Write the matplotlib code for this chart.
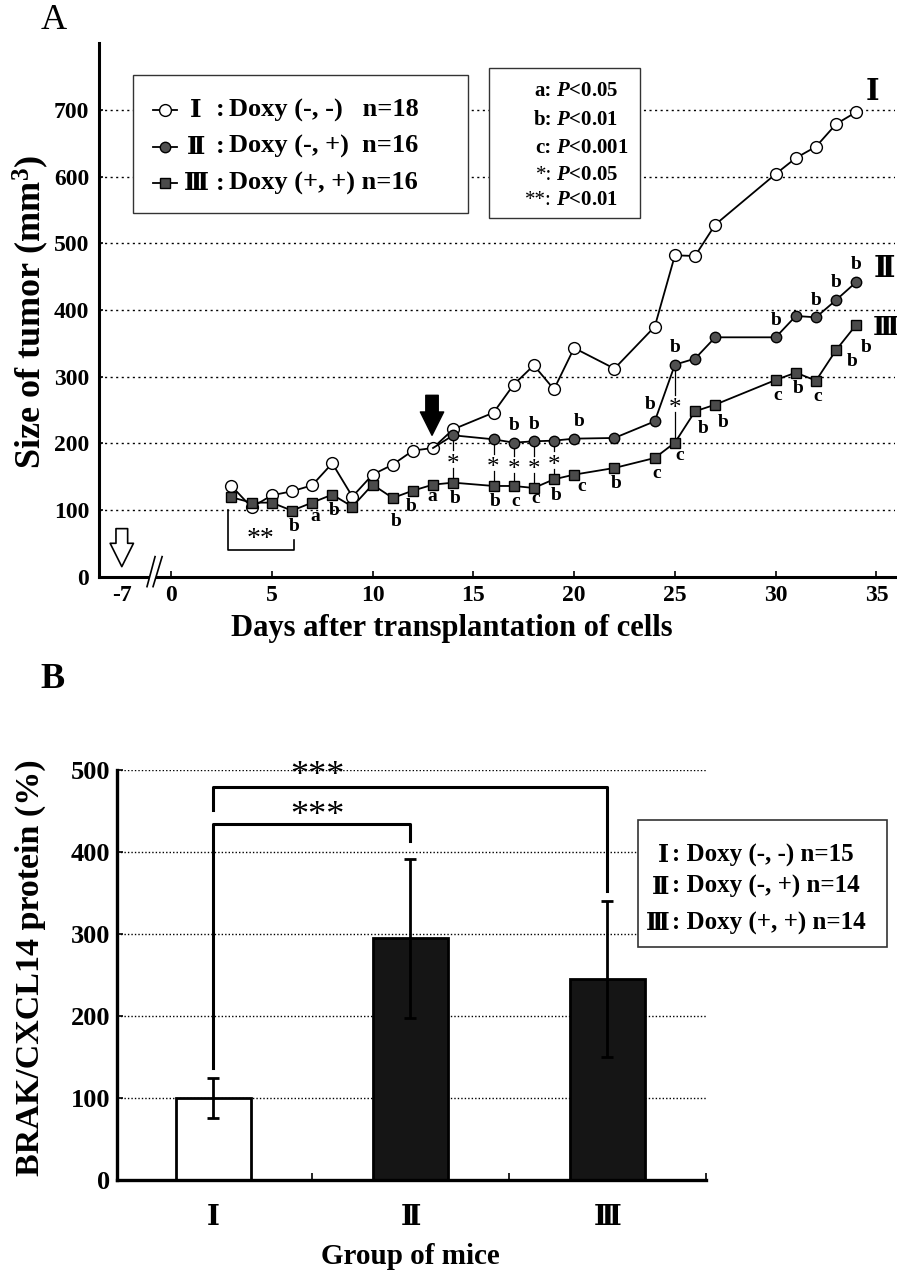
import matplotlib
matplotlib.use('Agg')
import matplotlib.pyplot as plt
from matplotlib.patches import Rectangle, Polygon

plt.rcParams['font.family'] = ['Liberation Serif', 'Noto Sans CJK JP']
plt.rcParams['font.weight'] = 'bold'
plt.rcParams['mathtext.fontset'] = 'custom'
plt.rcParams['mathtext.rm'] = 'Liberation Serif:bold'
plt.rcParams['mathtext.it'] = 'Liberation Serif:italic:bold'
plt.rcParams['mathtext.bf'] = 'Liberation Serif:bold'

ROMAN = ['DejaVu Serif', 'Noto Sans CJK JP']

# ---- panel A data (tumor size, mm3)
days_I = [3, 4, 5, 6, 7, 8, 9, 10, 11, 12, 13, 14, 16, 17, 18, 19, 20, 22, 24, 25, 26, 27, 30, 31, 32, 33, 34]
size_I = [136, 104, 122, 128, 137, 170, 120, 153, 168, 189, 193, 221, 246, 288, 317, 281, 343, 312, 375, 482, 481, 528, 604, 628, 645, 679, 697]
days_II = [13, 14, 16, 17, 18, 19, 20, 22, 24, 25, 26, 27, 30, 31, 32, 33, 34]
size_II = [193, 212, 206, 201, 203, 204, 207, 208, 233, 318, 327, 359, 359, 391, 389, 415, 442]
days_III = [3, 4, 5, 6, 7, 8, 9, 10, 11, 12, 13, 14, 16, 17, 18, 19, 20, 22, 24, 25, 26, 27, 30, 31, 32, 33, 34]
size_III = [119, 111, 111, 99, 111, 123, 105, 138, 118, 129, 138, 141, 136, 136, 133, 146, 153, 163, 178, 201, 248, 258, 295, 306, 294, 340, 378]

letters_II = {17: 'b', 18: 'b', 20: 'b', 24: 'b', 25: 'b', 30: 'b', 32: 'b', 33: 'b', 34: 'b'}
letters_III = {6: 'b', 7: 'a', 8: 'b', 11: 'b', 12: 'b', 13: 'a', 14: 'b', 16: 'b', 17: 'c', 18: 'c',
               19: 'b', 20: 'c', 22: 'b', 24: 'c', 25: 'c', 26: 'b', 27: 'b', 30: 'c', 31: 'b', 32: 'c',
               33: 'b', 34: 'b'}
star_days = [14, 16, 17, 18, 19, 25]

group_names = ['Ⅰ', 'Ⅱ', 'Ⅲ']
labels_A = ['Doxy (-, -)   n=18', 'Doxy (-, +)  n=16', 'Doxy (+, +) n=16']
p_keys = ['a:', 'b:', 'c:', '*:', '**:']
p_vals = ['$P$<0.05', '$P$<0.01', '$P$<0.001', '$P$<0.05', '$P$<0.01']

x_ticks = [0, 5, 10, 15, 20, 25, 30, 35]
y_ticks_A = [0, 100, 200, 300, 400, 500, 600, 700]

# ---- panel B data (BRAK/CXCL14 protein, %)
brak_mean = [100, 295, 245]
brak_sd = [24, 97, 95]
labels_B = ['Doxy (-, -) n=15', 'Doxy (-, +) n=14', 'Doxy (+, +) n=14']
y_ticks_B = [0, 100, 200, 300, 400, 500]

fig = plt.figure(figsize=(8.97, 12.78), dpi=100)

# ================= A
ax = fig.add_axes([0.1104, 0.5488, 0.8874, 0.4173])
ax.set_xlim(-3.57, 35.92)
ax.set_ylim(0, 800)
for s in ['top', 'right']:
    ax.spines[s].set_visible(False)
for s in ['left', 'bottom']:
    ax.spines[s].set_linewidth(2.2)
for v in y_ticks_A[1:]:
    ax.axhline(v, color='black', lw=1.0, ls=(0, (1.5, 2.5)), zorder=0)

ax.plot(days_I, size_I, '-o', color='black', lw=1.3, ms=8.5, mfc='white', mec='black', mew=1.0, zorder=3)
ax.plot(days_II, size_II, '-o', color='black', lw=1.3, ms=7.5, mfc='#505050', mec='black', mew=1.0,
        markevery=list(range(1, len(days_II))), zorder=4)
ax.plot(days_III, size_III, '-s', color='black', lw=1.3, ms=7, mfc='#4a4a4a', mec='black', mew=1.0, zorder=5)

# significance letters
off_III = {7: (3, -14), 11: (3, -24), 12: (-2, -16), 13: (-1, -12), 18: (2, -11), 20: (8, -12),
           25: (5, -13), 26: (8, -17), 27: (8, -18), 33: (16, -12), 34: (10, -23)}
for d, t in letters_III.items():
    v = size_III[days_III.index(d)]
    dx, dy = off_III.get(d, (2, -16))
    ax.annotate(t, (d, v), xytext=(dx * 0.72, dy * 0.72), textcoords='offset points',
                ha='center', va='center', fontsize=14, zorder=6)
off_II = {20: (5, 17), 24: (-5, 17)}
for d, t in letters_II.items():
    v = size_II[days_II.index(d)]
    dx, dy = off_II.get(d, (0, 17))
    ax.annotate(t, (d, v), xytext=(dx * 0.72, dy * 0.72), textcoords='offset points',
                ha='center', va='center', fontsize=14, zorder=6)

# stars II vs III
for d in star_days:
    v2 = size_II[days_II.index(d)]
    v3 = size_III[days_III.index(d)]
    mid = (v2 + v3) / 2
    ax.plot([d, d], [v2, mid + 13], color='black', lw=0.9, zorder=2)
    ax.plot([d, d], [mid - 13, v3], color='black', lw=0.9, zorder=2)
    ax.annotate('*', (d, mid), xytext=(0, -4), textcoords='offset points', ha='center', va='center',
                fontsize=18, fontweight='normal')

# ** bracket days 3-6
ax.plot([2.85, 2.85, 6.1, 6.1], [100, 40, 40, 55], color='black', lw=1.2)
ax.text(4.42, 55, '**', ha='center', va='center', fontsize=20, fontweight='normal')

# arrows
ax.annotate('', xy=(12.95, 212), xytext=(12.95, 272),
            arrowprops=dict(arrowstyle='simple,head_length=0.6,head_width=0.6,tail_width=0.32',
                            fc='black', ec='black', mutation_scale=28, shrinkA=0, shrinkB=0))
ax.annotate('', xy=(-2.44, 15), xytext=(-2.44, 72),
            arrowprops=dict(arrowstyle='simple,head_length=0.6,head_width=0.6,tail_width=0.3',
                            fc='white', ec='black', lw=1.2, mutation_scale=28, shrinkA=0, shrinkB=0))

# axis break
ax.add_patch(Polygon([(-1.19, -15), (-0.79, 30), (-0.44, 30), (-0.89, -15)], closed=True,
                     fc='white', ec='none', clip_on=False, zorder=6))
ax.plot([-1.19, -0.79], [-15, 30], color='black', lw=1.2, clip_on=False, zorder=7)
ax.plot([-0.89, -0.44], [-15, 30], color='black', lw=1.2, clip_on=False, zorder=7)

# group labels at curve ends
ax.text(34.8, 727, group_names[0], ha='center', va='center', fontsize=21, family=ROMAN, fontweight='bold')
ax.text(35.4, 462, group_names[1], ha='center', va='center', fontsize=21, family=ROMAN, fontweight='bold')
ax.text(35.45, 374, group_names[2], ha='center', va='center', fontsize=19, family=ROMAN, fontweight='bold')

ax.set_xticks([-2.44] + x_ticks)
ax.set_xticklabels(['-7'] + [str(v) for v in x_ticks])
ax.xaxis.get_major_ticks()[0].tick1line.set_visible(False)
ax.set_yticks(y_ticks_A)
ax.tick_params(axis='x', direction='in', length=4, width=1.2, labelsize=17, pad=6)
ax.tick_params(axis='y', direction='in', length=3, width=1.2, labelsize=17, pad=7)
for lab in ax.get_xticklabels() + ax.get_yticklabels():
    lab.set_fontweight('bold')

fig.text(0.504, 0.5023, 'Days after transplantation of cells', ha='center', va='baseline', fontsize=22)
fig.text(0.034, 0.756, 'Size of tumor (mm$^{3}$)', ha='center', va='center', rotation=90, fontsize=26)
fig.text(0.060, 0.984, 'A', ha='center', va='center', fontsize=26, fontweight='normal')

# legend A (series)
ax.add_patch(Rectangle((0.0427, 0.682), 0.4209, 0.259, transform=ax.transAxes, fc='white',
                       ec='#333333', lw=1.0, zorder=8, clip_on=False))
leg_y = [0.875, 0.806, 0.738]
styles = [dict(marker='o', ms=8.5, mfc='white'), dict(marker='o', ms=7.5, mfc='#505050'),
          dict(marker='s', ms=7, mfc='#4a4a4a')]
for i in range(3):
    ax.plot([0.0678, 0.098], [leg_y[i], leg_y[i]], color='black', lw=1.3, mec='black',
            transform=ax.transAxes, clip_on=False, zorder=9, markevery=[], **styles[i])
    ax.plot([0.083], [leg_y[i]], color='black', mec='black', transform=ax.transAxes, clip_on=False,
            zorder=10, **styles[i])
    ax.text(0.122, leg_y[i], group_names[i], transform=ax.transAxes, ha='center', va='center',
            fontsize=18, family=ROMAN, fontweight='bold', zorder=10)
    ax.text(0.152, leg_y[i], ':', transform=ax.transAxes, ha='center', va='center', fontsize=19, zorder=10)
    ax.text(0.163, leg_y[i], labels_A[i], transform=ax.transAxes, ha='left', va='center', fontsize=19, zorder=10)

# legend A (p values)
ax.add_patch(Rectangle((0.490, 0.6726), 0.190, 0.2814, transform=ax.transAxes, fc='white',
                       ec='#333333', lw=1.0, zorder=8, clip_on=False))
p_y = [0.910, 0.857, 0.804, 0.753, 0.706]
for i in range(5):
    fw = 'bold' if i < 3 else 'normal'
    ax.text(0.569, p_y[i], p_keys[i], transform=ax.transAxes, ha='right', va='center', fontsize=15,
            fontweight=fw, zorder=10)
    ax.text(0.574, p_y[i], p_vals[i], transform=ax.transAxes, ha='left', va='center', fontsize=15, zorder=10)

# ================= B
bx = fig.add_axes([0.1304, 0.0767, 0.6566, 0.3208])
bx.set_xlim(-0.49, 2.5)
bx.set_ylim(0, 500)
for s in ['top', 'right']:
    bx.spines[s].set_visible(False)
for s in ['left', 'bottom']:
    bx.spines[s].set_linewidth(2.4)
for v in y_ticks_B[1:]:
    bx.axhline(v, color='black', lw=1.0, ls=(0, (1, 1.5)), zorder=0)

xs = [0, 1, 2]
bx.bar(xs, brak_mean, width=0.385, color=['white', '#151515', '#151515'], edgecolor='black', lw=2, zorder=2)
bx.errorbar(xs, brak_mean, yerr=brak_sd, fmt='none', ecolor='black', elinewidth=2, capsize=4, capthick=2, zorder=3)

# significance brackets
bx.plot([0, 0, 2, 2], [451, 479, 479, 352], color='black', lw=2.2, zorder=3)
bx.plot([0, 0, 1, 1], [136, 434, 434, 413], color='black', lw=2.2, zorder=3)
bx.text(0.53, 492, '***', ha='center', va='center', fontsize=26, fontweight='normal', zorder=4)
bx.text(0.53, 443, '***', ha='center', va='center', fontsize=26, fontweight='normal', zorder=4)

bx.set_yticks(y_ticks_B)
bx.set_xticks(xs)
bx.set_xticklabels(group_names, family=ROMAN, fontweight='bold', fontsize=20)
bx.set_xticks([0.5, 1.5, 2.5], minor=True)
bx.tick_params(axis='x', which='major', length=0, pad=17)
bx.tick_params(axis='x', which='minor', direction='in', length=5, width=1.2)
bx.tick_params(axis='y', direction='in', length=4, width=1.2, labelsize=19, pad=5)
for lab in bx.get_yticklabels():
    lab.set_fontweight('bold')

fig.text(0.457, 0.0172, 'Group of mice', ha='center', va='center', fontsize=21)
fig.text(0.034, 0.243, 'BRAK/CXCL14 protein (%)', ha='center', va='center', rotation=90, fontsize=24.5)
fig.text(0.058, 0.4687, 'B', ha='center', va='center', fontsize=26)

# legend B
fig.patches.append(Rectangle((0.7113, 0.259), 0.2776, 0.0994, transform=fig.transFigure, fc='white',
                             ec='#333333', lw=1.2, zorder=8))
leg_yB = [0.331, 0.306, 0.2776]
for i in range(3):
    fig.text(0.746, leg_yB[i], group_names[i], ha='right', va='center', fontsize=17,
             family=ROMAN, fontweight='bold', zorder=10)
    fig.text(0.749, leg_yB[i], ': ' + labels_B[i], ha='left', va='center', fontsize=18, zorder=10)

fig.savefig('out.png', dpi=100)
